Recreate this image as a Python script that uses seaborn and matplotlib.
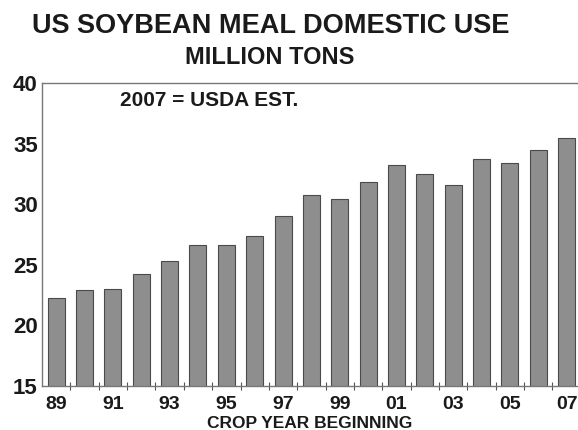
import matplotlib
matplotlib.use("Agg")
import matplotlib.pyplot as plt
import numpy as np
import pandas as pd
import seaborn as sns

# Crop years 1989-2007 (two-digit labels) and domestic use, million tons
years = ["89", "90", "91", "92", "93", "94", "95", "96", "97", "98",
         "99", "00", "01", "02", "03", "04", "05", "06", "07"]
use_mt = [22.3, 22.9, 23.0, 24.2, 25.3, 26.6, 26.6, 27.4, 29.0, 30.8,
          30.4, 31.8, 33.2, 32.5, 31.6, 33.7, 33.4, 34.5, 35.5]
y_ticks = [15, 20, 25, 30, 35, 40]

df = pd.DataFrame({"year": years, "use": use_mt})

sns.set_theme(style="white")
plt.rcParams["font.family"] = ["Liberation Sans", "DejaVu Sans"]
plt.rcParams["font.weight"] = "bold"

fig = plt.figure(figsize=(5.78, 4.30), dpi=100)
ax = fig.add_axes([42 / 578, 1 - 386 / 430, 1 - 42 / 578, (386 - 83) / 430])

sns.barplot(data=df, x="year", y="use", order=years, color="#8e8e8e",
            edgecolor="#4a4a4a", linewidth=0.8, width=0.6, saturation=1,
            ax=ax)

ax.set_ylim(15, 40)
ax.set_xlim(-0.5, 18.4)
ax.set_yticks(y_ticks)
ax.set_yticklabels([str(v) for v in y_ticks], fontsize=16, fontweight="bold",
                   color="#1a1a1a")
ax.tick_params(axis="y", length=0, pad=3)

pos = np.arange(len(years))
ax.set_xticks(pos[::2])
ax.set_xticklabels(years[::2], fontsize=14, fontweight="bold", color="#1a1a1a")
ax.set_xticks(pos[:-1] + 0.5, minor=True)
ax.tick_params(axis="x", which="major", length=0, pad=7)
ax.tick_params(axis="x", which="minor", length=6, direction="inout",
               width=0.8, color="#555555", bottom=True)

ax.set_xlabel("CROP YEAR BEGINNING", fontsize=12.5, fontweight="bold",
              color="#1a1a1a", labelpad=2)
ax.set_ylabel("")

for side in ["left", "top", "bottom"]:
    ax.spines[side].set_visible(True)
    ax.spines[side].set_color("#777777")
    ax.spines[side].set_linewidth(1.0)
ax.spines["right"].set_visible(False)

ax.text(0.146, 0.943, "2007 = USDA EST.", transform=ax.transAxes,
        fontsize=15, fontweight="bold", color="#1a1a1a", va="center")

fig.text(0.469, 0.94, "US SOYBEAN MEAL DOMESTIC USE", ha="center",
         va="center", fontsize=19.5, fontweight="bold", color="#1a1a1a")
fig.text(0.467, 0.866, "MILLION TONS", ha="center", va="center",
         fontsize=17, fontweight="bold", color="#1a1a1a")

fig.savefig("out.png", dpi=100, facecolor="white")
